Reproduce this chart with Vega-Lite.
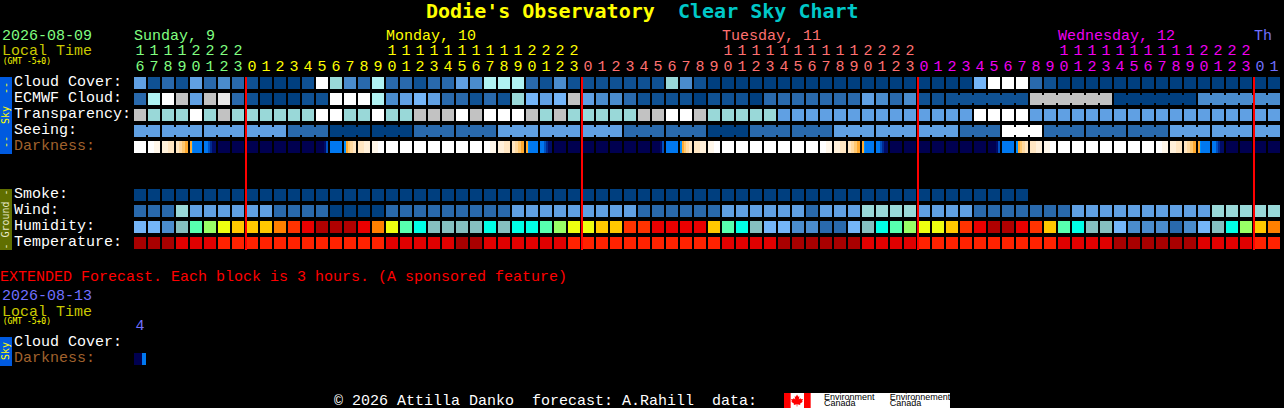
{"$schema":"https://vega.github.io/schema/vega-lite/v6.json","width":1284,"height":408,"padding":0,"autosize":{"type":"none"},"background":"#000000","view":{"stroke":null},
"encoding":{"x":{"field":"col","type":"quantitative","axis":null,"scale":{"domain":[-10,81.7142857],"nice":false,"zero":false}},"y":{"field":"row","type":"quantitative","axis":null,"scale":{"domain":[20.3125,-5.1875],"nice":false,"zero":false}},"color":{"field":"level","type":"nominal","legend":null,"scale":{"domain":["A","B","C","D","E","F","G","H","I","J","K","Hg","Hm","Hl","Hy","Ho","Hr","Hs","Ht","Hd","Hc","Tk","Tr","Tb","d1","d2","d3","d4","d5","d6","d7","d8","d9","d10","d11","N","sky","ground","red","green","yellow","olive","salmon","magenta","periwinkle","brown","cyan","ink","groundtext"],"range":["#003f7f","#0f5193","#2969ac","#4a8ccd","#60a0e3","#74b5f8","#99d8d8","#b0f2f2","#c2c2c2","#e9e9e9","#ffffff","#85bfbf","#57ffaf","#99ff66","#eeff10","#ffc800","#ff8000","#ff3300","#ea0000","#b00000","#00ffe6","#a80000","#e00000","#ff2200","#fff7ea","#fff0da","#ffe6c2","#ffd9a0","#ffc870","#ffaa30","#0090ff","#0078f0","#0050c0","#002a90","#000c68","#000050","#005ae0","#606f00","#ff0000","#80ff80","#ffff00","#c8c800","#ff7070","#f000f0","#7070ff","#a0622d","#00c8c8","#000000","#e8e8c8"]}}},
"layer":[
{"mark":{"type":"square","size":144,"opacity":1,"strokeWidth":0},"data":{"values":[
{"col":0,"row":0,"level":"E"},{"col":1,"row":0,"level":"B"},{"col":2,"row":0,"level":"C"},{"col":3,"row":0,"level":"B"},{"col":4,"row":0,"level":"E"},{"col":5,"row":0,"level":"C"},{"col":6,"row":0,"level":"D"},{"col":7,"row":0,"level":"C"},{"col":8,"row":0,"level":"B"},{"col":9,"row":0,"level":"A"},{"col":10,"row":0,"level":"A"},{"col":11,"row":0,"level":"A"},{"col":12,"row":0,"level":"B"},{"col":13,"row":0,"level":"K"},{"col":14,"row":0,"level":"G"},{"col":15,"row":0,"level":"D"},{"col":16,"row":0,"level":"C"},{"col":17,"row":0,"level":"H"},{"col":18,"row":0,"level":"C"},{"col":19,"row":0,"level":"C"},{"col":20,"row":0,"level":"B"},{"col":21,"row":0,"level":"C"},{"col":22,"row":0,"level":"C"},{"col":23,"row":0,"level":"E"},{"col":24,"row":0,"level":"D"},{"col":25,"row":0,"level":"H"},{"col":26,"row":0,"level":"H"},{"col":27,"row":0,"level":"H"},{"col":28,"row":0,"level":"C"},{"col":29,"row":0,"level":"B"},{"col":30,"row":0,"level":"D"},{"col":31,"row":0,"level":"B"},{"col":32,"row":0,"level":"B"},{"col":33,"row":0,"level":"B"},{"col":34,"row":0,"level":"B"},{"col":35,"row":0,"level":"B"},{"col":36,"row":0,"level":"B"},{"col":37,"row":0,"level":"B"},{"col":38,"row":0,"level":"G"},{"col":39,"row":0,"level":"D"},{"col":40,"row":0,"level":"B"},{"col":41,"row":0,"level":"A"},{"col":42,"row":0,"level":"A"},{"col":43,"row":0,"level":"A"},{"col":44,"row":0,"level":"A"},{"col":45,"row":0,"level":"A"},{"col":46,"row":0,"level":"A"},{"col":47,"row":0,"level":"A"},{"col":48,"row":0,"level":"A"},{"col":49,"row":0,"level":"A"},{"col":50,"row":0,"level":"A"},{"col":51,"row":0,"level":"A"},{"col":52,"row":0,"level":"A"},{"col":53,"row":0,"level":"A"},{"col":54,"row":0,"level":"A"},{"col":55,"row":0,"level":"A"},{"col":56,"row":0,"level":"A"},{"col":57,"row":0,"level":"A"},{"col":58,"row":0,"level":"A"},{"col":59,"row":0,"level":"A"},{"col":60,"row":0,"level":"F"},{"col":61,"row":0,"level":"K"},{"col":62,"row":0,"level":"K"},{"col":63,"row":0,"level":"K"},{"col":64,"row":0,"level":"C"},{"col":65,"row":0,"level":"B"},{"col":66,"row":0,"level":"A"},{"col":67,"row":0,"level":"A"},{"col":68,"row":0,"level":"A"},{"col":69,"row":0,"level":"A"},{"col":70,"row":0,"level":"A"},{"col":71,"row":0,"level":"A"},{"col":72,"row":0,"level":"A"},{"col":73,"row":0,"level":"A"},{"col":74,"row":0,"level":"A"},{"col":75,"row":0,"level":"A"},{"col":76,"row":0,"level":"A"},{"col":77,"row":0,"level":"A"},{"col":78,"row":0,"level":"A"},{"col":79,"row":0,"level":"A"},{"col":80,"row":0,"level":"A"},{"col":81,"row":0,"level":"A"},
{"col":0,"row":1,"level":"C"},{"col":1,"row":1,"level":"H"},{"col":2,"row":1,"level":"K"},{"col":3,"row":1,"level":"I"},{"col":4,"row":1,"level":"E"},{"col":5,"row":1,"level":"I"},{"col":6,"row":1,"level":"J"},{"col":7,"row":1,"level":"C"},{"col":8,"row":1,"level":"B"},{"col":9,"row":1,"level":"A"},{"col":10,"row":1,"level":"A"},{"col":11,"row":1,"level":"A"},{"col":12,"row":1,"level":"B"},{"col":13,"row":1,"level":"B"},{"col":14,"row":1,"level":"K"},{"col":15,"row":1,"level":"K"},{"col":16,"row":1,"level":"K"},{"col":17,"row":1,"level":"H"},{"col":18,"row":1,"level":"D"},{"col":19,"row":1,"level":"E"},{"col":20,"row":1,"level":"F"},{"col":21,"row":1,"level":"E"},{"col":22,"row":1,"level":"C"},{"col":23,"row":1,"level":"C"},{"col":24,"row":1,"level":"B"},{"col":25,"row":1,"level":"C"},{"col":26,"row":1,"level":"B"},{"col":27,"row":1,"level":"G"},{"col":28,"row":1,"level":"F"},{"col":29,"row":1,"level":"E"},{"col":30,"row":1,"level":"F"},{"col":31,"row":1,"level":"I"},{"col":32,"row":1,"level":"E"},{"col":33,"row":1,"level":"D"},{"col":34,"row":1,"level":"D"},{"col":35,"row":1,"level":"C"},{"col":36,"row":1,"level":"B"},{"col":37,"row":1,"level":"B"},{"col":38,"row":1,"level":"B"},{"col":39,"row":1,"level":"B"},{"col":40,"row":1,"level":"A"},{"col":41,"row":1,"level":"B"},{"col":42,"row":1,"level":"B"},{"col":43,"row":1,"level":"B"},{"col":44,"row":1,"level":"A"},{"col":45,"row":1,"level":"C"},{"col":46,"row":1,"level":"C"},{"col":47,"row":1,"level":"C"},{"col":48,"row":1,"level":"C"},{"col":49,"row":1,"level":"C"},{"col":50,"row":1,"level":"C"},{"col":51,"row":1,"level":"C"},{"col":52,"row":1,"level":"E"},{"col":53,"row":1,"level":"D"},{"col":54,"row":1,"level":"C"},{"col":55,"row":1,"level":"D"},{"col":56,"row":1,"level":"B"},{"col":57,"row":1,"level":"B"},{"col":58,"row":1,"level":"B"},{"col":59,"row":1,"level":"B"},{"col":60,"row":1,"level":"B"},{"col":61,"row":1,"level":"B"},{"col":62,"row":1,"level":"B"},{"col":63,"row":1,"level":"B"},{"col":64,"row":1,"level":"I"},{"col":65,"row":1,"level":"I"},{"col":66,"row":1,"level":"I"},{"col":67,"row":1,"level":"I"},{"col":68,"row":1,"level":"I"},{"col":69,"row":1,"level":"I"},{"col":70,"row":1,"level":"A"},{"col":71,"row":1,"level":"A"},{"col":72,"row":1,"level":"A"},{"col":73,"row":1,"level":"A"},{"col":74,"row":1,"level":"A"},{"col":75,"row":1,"level":"A"},{"col":76,"row":1,"level":"D"},{"col":77,"row":1,"level":"D"},{"col":78,"row":1,"level":"D"},{"col":79,"row":1,"level":"D"},{"col":80,"row":1,"level":"D"},{"col":81,"row":1,"level":"D"},
{"col":0,"row":2,"level":"I"},{"col":1,"row":2,"level":"G"},{"col":2,"row":2,"level":"G"},{"col":3,"row":2,"level":"G"},{"col":4,"row":2,"level":"K"},{"col":5,"row":2,"level":"G"},{"col":6,"row":2,"level":"I"},{"col":7,"row":2,"level":"G"},{"col":8,"row":2,"level":"G"},{"col":9,"row":2,"level":"G"},{"col":10,"row":2,"level":"G"},{"col":11,"row":2,"level":"G"},{"col":12,"row":2,"level":"G"},{"col":13,"row":2,"level":"K"},{"col":14,"row":2,"level":"K"},{"col":15,"row":2,"level":"G"},{"col":16,"row":2,"level":"G"},{"col":17,"row":2,"level":"K"},{"col":18,"row":2,"level":"G"},{"col":19,"row":2,"level":"G"},{"col":20,"row":2,"level":"I"},{"col":21,"row":2,"level":"I"},{"col":22,"row":2,"level":"I"},{"col":23,"row":2,"level":"K"},{"col":24,"row":2,"level":"I"},{"col":25,"row":2,"level":"K"},{"col":26,"row":2,"level":"K"},{"col":27,"row":2,"level":"K"},{"col":28,"row":2,"level":"I"},{"col":29,"row":2,"level":"G"},{"col":30,"row":2,"level":"I"},{"col":31,"row":2,"level":"G"},{"col":32,"row":2,"level":"G"},{"col":33,"row":2,"level":"G"},{"col":34,"row":2,"level":"G"},{"col":35,"row":2,"level":"G"},{"col":36,"row":2,"level":"I"},{"col":37,"row":2,"level":"I"},{"col":38,"row":2,"level":"K"},{"col":39,"row":2,"level":"K"},{"col":40,"row":2,"level":"I"},{"col":41,"row":2,"level":"G"},{"col":42,"row":2,"level":"G"},{"col":43,"row":2,"level":"G"},{"col":44,"row":2,"level":"G"},{"col":45,"row":2,"level":"G"},{"col":46,"row":2,"level":"E"},{"col":47,"row":2,"level":"E"},{"col":48,"row":2,"level":"E"},{"col":49,"row":2,"level":"E"},{"col":50,"row":2,"level":"E"},{"col":51,"row":2,"level":"E"},{"col":52,"row":2,"level":"E"},{"col":53,"row":2,"level":"E"},{"col":54,"row":2,"level":"E"},{"col":55,"row":2,"level":"E"},{"col":56,"row":2,"level":"E"},{"col":57,"row":2,"level":"E"},{"col":58,"row":2,"level":"E"},{"col":59,"row":2,"level":"E"},{"col":60,"row":2,"level":"K"},{"col":61,"row":2,"level":"K"},{"col":62,"row":2,"level":"K"},{"col":63,"row":2,"level":"K"},{"col":64,"row":2,"level":"E"},{"col":65,"row":2,"level":"E"},{"col":66,"row":2,"level":"E"},{"col":67,"row":2,"level":"E"},{"col":68,"row":2,"level":"E"},{"col":69,"row":2,"level":"E"},{"col":70,"row":2,"level":"E"},{"col":71,"row":2,"level":"E"},{"col":72,"row":2,"level":"E"},{"col":73,"row":2,"level":"E"},{"col":74,"row":2,"level":"E"},{"col":75,"row":2,"level":"E"},{"col":76,"row":2,"level":"E"},{"col":77,"row":2,"level":"E"},{"col":78,"row":2,"level":"E"},{"col":79,"row":2,"level":"E"},{"col":80,"row":2,"level":"E"},{"col":81,"row":2,"level":"E"},
{"col":0,"row":3,"level":"E"},{"col":1,"row":3,"level":"E"},{"col":2,"row":3,"level":"E"},{"col":3,"row":3,"level":"E"},{"col":4,"row":3,"level":"E"},{"col":5,"row":3,"level":"E"},{"col":6,"row":3,"level":"E"},{"col":7,"row":3,"level":"E"},{"col":8,"row":3,"level":"E"},{"col":9,"row":3,"level":"E"},{"col":10,"row":3,"level":"E"},{"col":11,"row":3,"level":"C"},{"col":12,"row":3,"level":"C"},{"col":13,"row":3,"level":"C"},{"col":14,"row":3,"level":"A"},{"col":15,"row":3,"level":"A"},{"col":16,"row":3,"level":"A"},{"col":17,"row":3,"level":"A"},{"col":18,"row":3,"level":"A"},{"col":19,"row":3,"level":"A"},{"col":20,"row":3,"level":"C"},{"col":21,"row":3,"level":"C"},{"col":22,"row":3,"level":"C"},{"col":23,"row":3,"level":"C"},{"col":24,"row":3,"level":"C"},{"col":25,"row":3,"level":"C"},{"col":26,"row":3,"level":"E"},{"col":27,"row":3,"level":"E"},{"col":28,"row":3,"level":"E"},{"col":29,"row":3,"level":"E"},{"col":30,"row":3,"level":"E"},{"col":31,"row":3,"level":"E"},{"col":32,"row":3,"level":"E"},{"col":33,"row":3,"level":"E"},{"col":34,"row":3,"level":"E"},{"col":35,"row":3,"level":"C"},{"col":36,"row":3,"level":"C"},{"col":37,"row":3,"level":"C"},{"col":38,"row":3,"level":"C"},{"col":39,"row":3,"level":"C"},{"col":40,"row":3,"level":"C"},{"col":41,"row":3,"level":"A"},{"col":42,"row":3,"level":"A"},{"col":43,"row":3,"level":"A"},{"col":44,"row":3,"level":"C"},{"col":45,"row":3,"level":"C"},{"col":46,"row":3,"level":"C"},{"col":47,"row":3,"level":"C"},{"col":48,"row":3,"level":"C"},{"col":49,"row":3,"level":"C"},{"col":50,"row":3,"level":"E"},{"col":51,"row":3,"level":"E"},{"col":52,"row":3,"level":"E"},{"col":53,"row":3,"level":"E"},{"col":54,"row":3,"level":"E"},{"col":55,"row":3,"level":"E"},{"col":56,"row":3,"level":"E"},{"col":57,"row":3,"level":"E"},{"col":58,"row":3,"level":"E"},{"col":59,"row":3,"level":"C"},{"col":60,"row":3,"level":"C"},{"col":61,"row":3,"level":"C"},{"col":62,"row":3,"level":"K"},{"col":63,"row":3,"level":"K"},{"col":64,"row":3,"level":"K"},{"col":65,"row":3,"level":"C"},{"col":66,"row":3,"level":"C"},{"col":67,"row":3,"level":"C"},{"col":68,"row":3,"level":"C"},{"col":69,"row":3,"level":"C"},{"col":70,"row":3,"level":"C"},{"col":71,"row":3,"level":"C"},{"col":72,"row":3,"level":"C"},{"col":73,"row":3,"level":"C"},{"col":74,"row":3,"level":"E"},{"col":75,"row":3,"level":"E"},{"col":76,"row":3,"level":"E"},{"col":77,"row":3,"level":"E"},{"col":78,"row":3,"level":"E"},{"col":79,"row":3,"level":"E"},{"col":80,"row":3,"level":"E"},{"col":81,"row":3,"level":"E"},
{"col":0,"row":4,"level":"K"},{"col":6,"row":4,"level":"N"},{"col":7,"row":4,"level":"N"},{"col":8,"row":4,"level":"N"},{"col":9,"row":4,"level":"N"},{"col":10,"row":4,"level":"N"},{"col":11,"row":4,"level":"N"},{"col":12,"row":4,"level":"N"},{"col":14,"row":4,"level":"d8"},{"col":18,"row":4,"level":"K"},{"col":19,"row":4,"level":"K"},{"col":20,"row":4,"level":"K"},{"col":21,"row":4,"level":"K"},{"col":22,"row":4,"level":"K"},{"col":23,"row":4,"level":"K"},{"col":24,"row":4,"level":"K"},{"col":30,"row":4,"level":"N"},{"col":31,"row":4,"level":"N"},{"col":32,"row":4,"level":"N"},{"col":33,"row":4,"level":"N"},{"col":34,"row":4,"level":"N"},{"col":35,"row":4,"level":"N"},{"col":36,"row":4,"level":"N"},{"col":38,"row":4,"level":"d8"},{"col":42,"row":4,"level":"K"},{"col":43,"row":4,"level":"K"},{"col":44,"row":4,"level":"K"},{"col":45,"row":4,"level":"K"},{"col":46,"row":4,"level":"K"},{"col":47,"row":4,"level":"K"},{"col":48,"row":4,"level":"K"},{"col":54,"row":4,"level":"N"},{"col":55,"row":4,"level":"N"},{"col":56,"row":4,"level":"N"},{"col":57,"row":4,"level":"N"},{"col":58,"row":4,"level":"N"},{"col":59,"row":4,"level":"N"},{"col":60,"row":4,"level":"N"},{"col":62,"row":4,"level":"d8"},{"col":66,"row":4,"level":"K"},{"col":67,"row":4,"level":"K"},{"col":68,"row":4,"level":"K"},{"col":69,"row":4,"level":"K"},{"col":70,"row":4,"level":"K"},{"col":71,"row":4,"level":"K"},{"col":72,"row":4,"level":"K"},{"col":78,"row":4,"level":"N"},{"col":79,"row":4,"level":"N"},{"col":80,"row":4,"level":"N"},{"col":81,"row":4,"level":"N"},
{"col":0,"row":7,"level":"A"},{"col":1,"row":7,"level":"A"},{"col":2,"row":7,"level":"A"},{"col":3,"row":7,"level":"A"},{"col":4,"row":7,"level":"A"},{"col":5,"row":7,"level":"A"},{"col":6,"row":7,"level":"A"},{"col":7,"row":7,"level":"A"},{"col":8,"row":7,"level":"A"},{"col":9,"row":7,"level":"A"},{"col":10,"row":7,"level":"A"},{"col":11,"row":7,"level":"A"},{"col":12,"row":7,"level":"A"},{"col":13,"row":7,"level":"A"},{"col":14,"row":7,"level":"A"},{"col":15,"row":7,"level":"A"},{"col":16,"row":7,"level":"A"},{"col":17,"row":7,"level":"A"},{"col":18,"row":7,"level":"A"},{"col":19,"row":7,"level":"A"},{"col":20,"row":7,"level":"A"},{"col":21,"row":7,"level":"A"},{"col":22,"row":7,"level":"A"},{"col":23,"row":7,"level":"A"},{"col":24,"row":7,"level":"A"},{"col":25,"row":7,"level":"A"},{"col":26,"row":7,"level":"A"},{"col":27,"row":7,"level":"A"},{"col":28,"row":7,"level":"A"},{"col":29,"row":7,"level":"A"},{"col":30,"row":7,"level":"A"},{"col":31,"row":7,"level":"A"},{"col":32,"row":7,"level":"A"},{"col":33,"row":7,"level":"A"},{"col":34,"row":7,"level":"A"},{"col":35,"row":7,"level":"A"},{"col":36,"row":7,"level":"A"},{"col":37,"row":7,"level":"A"},{"col":38,"row":7,"level":"A"},{"col":39,"row":7,"level":"A"},{"col":40,"row":7,"level":"A"},{"col":41,"row":7,"level":"A"},{"col":42,"row":7,"level":"A"},{"col":43,"row":7,"level":"A"},{"col":44,"row":7,"level":"A"},{"col":45,"row":7,"level":"A"},{"col":46,"row":7,"level":"A"},{"col":47,"row":7,"level":"A"},{"col":48,"row":7,"level":"A"},{"col":49,"row":7,"level":"A"},{"col":50,"row":7,"level":"A"},{"col":51,"row":7,"level":"A"},{"col":52,"row":7,"level":"A"},{"col":53,"row":7,"level":"A"},{"col":54,"row":7,"level":"A"},{"col":55,"row":7,"level":"A"},{"col":56,"row":7,"level":"A"},{"col":57,"row":7,"level":"A"},{"col":58,"row":7,"level":"A"},{"col":59,"row":7,"level":"A"},{"col":60,"row":7,"level":"A"},{"col":61,"row":7,"level":"A"},{"col":62,"row":7,"level":"A"},{"col":63,"row":7,"level":"A"},
{"col":0,"row":8,"level":"C"},{"col":1,"row":8,"level":"C"},{"col":2,"row":8,"level":"C"},{"col":3,"row":8,"level":"G"},{"col":4,"row":8,"level":"E"},{"col":5,"row":8,"level":"E"},{"col":6,"row":8,"level":"E"},{"col":7,"row":8,"level":"E"},{"col":8,"row":8,"level":"E"},{"col":9,"row":8,"level":"E"},{"col":10,"row":8,"level":"C"},{"col":11,"row":8,"level":"C"},{"col":12,"row":8,"level":"C"},{"col":13,"row":8,"level":"C"},{"col":14,"row":8,"level":"A"},{"col":15,"row":8,"level":"A"},{"col":16,"row":8,"level":"A"},{"col":17,"row":8,"level":"A"},{"col":18,"row":8,"level":"C"},{"col":19,"row":8,"level":"C"},{"col":20,"row":8,"level":"C"},{"col":21,"row":8,"level":"C"},{"col":22,"row":8,"level":"C"},{"col":23,"row":8,"level":"C"},{"col":24,"row":8,"level":"C"},{"col":25,"row":8,"level":"C"},{"col":26,"row":8,"level":"C"},{"col":27,"row":8,"level":"E"},{"col":28,"row":8,"level":"E"},{"col":29,"row":8,"level":"E"},{"col":30,"row":8,"level":"E"},{"col":31,"row":8,"level":"E"},{"col":32,"row":8,"level":"E"},{"col":33,"row":8,"level":"E"},{"col":34,"row":8,"level":"E"},{"col":35,"row":8,"level":"E"},{"col":36,"row":8,"level":"C"},{"col":37,"row":8,"level":"C"},{"col":38,"row":8,"level":"C"},{"col":39,"row":8,"level":"C"},{"col":40,"row":8,"level":"C"},{"col":41,"row":8,"level":"C"},{"col":42,"row":8,"level":"E"},{"col":43,"row":8,"level":"E"},{"col":44,"row":8,"level":"E"},{"col":45,"row":8,"level":"E"},{"col":46,"row":8,"level":"E"},{"col":47,"row":8,"level":"E"},{"col":48,"row":8,"level":"C"},{"col":49,"row":8,"level":"E"},{"col":50,"row":8,"level":"E"},{"col":51,"row":8,"level":"E"},{"col":52,"row":8,"level":"G"},{"col":53,"row":8,"level":"G"},{"col":54,"row":8,"level":"G"},{"col":55,"row":8,"level":"G"},{"col":56,"row":8,"level":"E"},{"col":57,"row":8,"level":"E"},{"col":58,"row":8,"level":"E"},{"col":59,"row":8,"level":"E"},{"col":60,"row":8,"level":"C"},{"col":61,"row":8,"level":"C"},{"col":62,"row":8,"level":"C"},{"col":63,"row":8,"level":"C"},{"col":64,"row":8,"level":"C"},{"col":65,"row":8,"level":"C"},{"col":66,"row":8,"level":"C"},{"col":67,"row":8,"level":"E"},{"col":68,"row":8,"level":"E"},{"col":69,"row":8,"level":"E"},{"col":70,"row":8,"level":"E"},{"col":71,"row":8,"level":"E"},{"col":72,"row":8,"level":"E"},{"col":73,"row":8,"level":"E"},{"col":74,"row":8,"level":"E"},{"col":75,"row":8,"level":"E"},{"col":76,"row":8,"level":"E"},{"col":77,"row":8,"level":"G"},{"col":78,"row":8,"level":"G"},{"col":79,"row":8,"level":"G"},{"col":80,"row":8,"level":"G"},{"col":81,"row":8,"level":"G"},
{"col":0,"row":9,"level":"F"},{"col":1,"row":9,"level":"F"},{"col":2,"row":9,"level":"D"},{"col":3,"row":9,"level":"Hg"},{"col":4,"row":9,"level":"Hm"},{"col":5,"row":9,"level":"Hl"},{"col":6,"row":9,"level":"Hy"},{"col":7,"row":9,"level":"Ho"},{"col":8,"row":9,"level":"Ho"},{"col":9,"row":9,"level":"Ho"},{"col":10,"row":9,"level":"Hr"},{"col":11,"row":9,"level":"Hs"},{"col":12,"row":9,"level":"Ht"},{"col":13,"row":9,"level":"Hd"},{"col":14,"row":9,"level":"Hd"},{"col":15,"row":9,"level":"Hd"},{"col":16,"row":9,"level":"Ht"},{"col":17,"row":9,"level":"Hr"},{"col":18,"row":9,"level":"Hy"},{"col":19,"row":9,"level":"Hm"},{"col":20,"row":9,"level":"Hc"},{"col":21,"row":9,"level":"Hg"},{"col":22,"row":9,"level":"Hg"},{"col":23,"row":9,"level":"Hg"},{"col":24,"row":9,"level":"Hg"},{"col":25,"row":9,"level":"Hc"},{"col":26,"row":9,"level":"Hg"},{"col":27,"row":9,"level":"Hc"},{"col":28,"row":9,"level":"Hc"},{"col":29,"row":9,"level":"Hm"},{"col":30,"row":9,"level":"Hl"},{"col":31,"row":9,"level":"Hy"},{"col":32,"row":9,"level":"Hy"},{"col":33,"row":9,"level":"Ho"},{"col":34,"row":9,"level":"Ho"},{"col":35,"row":9,"level":"Hs"},{"col":36,"row":9,"level":"Hs"},{"col":37,"row":9,"level":"Ht"},{"col":38,"row":9,"level":"Ht"},{"col":39,"row":9,"level":"Ht"},{"col":40,"row":9,"level":"Ht"},{"col":41,"row":9,"level":"Ho"},{"col":42,"row":9,"level":"Hm"},{"col":43,"row":9,"level":"Hc"},{"col":44,"row":9,"level":"Hg"},{"col":45,"row":9,"level":"F"},{"col":46,"row":9,"level":"F"},{"col":47,"row":9,"level":"D"},{"col":48,"row":9,"level":"D"},{"col":49,"row":9,"level":"C"},{"col":50,"row":9,"level":"C"},{"col":51,"row":9,"level":"F"},{"col":52,"row":9,"level":"Hg"},{"col":53,"row":9,"level":"Hc"},{"col":54,"row":9,"level":"Hm"},{"col":55,"row":9,"level":"Hl"},{"col":56,"row":9,"level":"Hy"},{"col":57,"row":9,"level":"Hy"},{"col":58,"row":9,"level":"Ho"},{"col":59,"row":9,"level":"Hs"},{"col":60,"row":9,"level":"Ht"},{"col":61,"row":9,"level":"Hd"},{"col":62,"row":9,"level":"Hd"},{"col":63,"row":9,"level":"Ht"},{"col":64,"row":9,"level":"Hs"},{"col":65,"row":9,"level":"Ho"},{"col":66,"row":9,"level":"Hm"},{"col":67,"row":9,"level":"Hc"},{"col":68,"row":9,"level":"Hg"},{"col":69,"row":9,"level":"Hg"},{"col":70,"row":9,"level":"F"},{"col":71,"row":9,"level":"D"},{"col":72,"row":9,"level":"D"},{"col":73,"row":9,"level":"D"},{"col":74,"row":9,"level":"C"},{"col":75,"row":9,"level":"D"},{"col":76,"row":9,"level":"F"},{"col":77,"row":9,"level":"Hg"},{"col":78,"row":9,"level":"Hc"},{"col":79,"row":9,"level":"Hl"},{"col":80,"row":9,"level":"Ho"},{"col":81,"row":9,"level":"Hr"},
{"col":0,"row":10,"level":"Tk"},{"col":1,"row":10,"level":"Tk"},{"col":2,"row":10,"level":"Tk"},{"col":3,"row":10,"level":"Tr"},{"col":4,"row":10,"level":"Tr"},{"col":5,"row":10,"level":"Tr"},{"col":6,"row":10,"level":"Tb"},{"col":7,"row":10,"level":"Tb"},{"col":8,"row":10,"level":"Tb"},{"col":9,"row":10,"level":"Tb"},{"col":10,"row":10,"level":"Tb"},{"col":11,"row":10,"level":"Tb"},{"col":12,"row":10,"level":"Tb"},{"col":13,"row":10,"level":"Tb"},{"col":14,"row":10,"level":"Tb"},{"col":15,"row":10,"level":"Tb"},{"col":16,"row":10,"level":"Tb"},{"col":17,"row":10,"level":"Tb"},{"col":18,"row":10,"level":"Tr"},{"col":19,"row":10,"level":"Tr"},{"col":20,"row":10,"level":"Tr"},{"col":21,"row":10,"level":"Tr"},{"col":22,"row":10,"level":"Tr"},{"col":23,"row":10,"level":"Tk"},{"col":24,"row":10,"level":"Tk"},{"col":25,"row":10,"level":"Tr"},{"col":26,"row":10,"level":"Tr"},{"col":27,"row":10,"level":"Tr"},{"col":28,"row":10,"level":"Tr"},{"col":29,"row":10,"level":"Tr"},{"col":30,"row":10,"level":"Tr"},{"col":31,"row":10,"level":"Tb"},{"col":32,"row":10,"level":"Tb"},{"col":33,"row":10,"level":"Tb"},{"col":34,"row":10,"level":"Tb"},{"col":35,"row":10,"level":"Tb"},{"col":36,"row":10,"level":"Tb"},{"col":37,"row":10,"level":"Tb"},{"col":38,"row":10,"level":"Tb"},{"col":39,"row":10,"level":"Tb"},{"col":40,"row":10,"level":"Tb"},{"col":41,"row":10,"level":"Tb"},{"col":42,"row":10,"level":"Tr"},{"col":43,"row":10,"level":"Tr"},{"col":44,"row":10,"level":"Tr"},{"col":45,"row":10,"level":"Tr"},{"col":46,"row":10,"level":"Tk"},{"col":47,"row":10,"level":"Tk"},{"col":48,"row":10,"level":"Tk"},{"col":49,"row":10,"level":"Tk"},{"col":50,"row":10,"level":"Tk"},{"col":51,"row":10,"level":"Tk"},{"col":52,"row":10,"level":"Tr"},{"col":53,"row":10,"level":"Tr"},{"col":54,"row":10,"level":"Tr"},{"col":55,"row":10,"level":"Tr"},{"col":56,"row":10,"level":"Tb"},{"col":57,"row":10,"level":"Tb"},{"col":58,"row":10,"level":"Tb"},{"col":59,"row":10,"level":"Tb"},{"col":60,"row":10,"level":"Tb"},{"col":61,"row":10,"level":"Tb"},{"col":62,"row":10,"level":"Tb"},{"col":63,"row":10,"level":"Tb"},{"col":64,"row":10,"level":"Tb"},{"col":65,"row":10,"level":"Tb"},{"col":66,"row":10,"level":"Tr"},{"col":67,"row":10,"level":"Tr"},{"col":68,"row":10,"level":"Tr"},{"col":69,"row":10,"level":"Tr"},{"col":70,"row":10,"level":"Tk"},{"col":71,"row":10,"level":"Tk"},{"col":72,"row":10,"level":"Tk"},{"col":73,"row":10,"level":"Tk"},{"col":74,"row":10,"level":"Tk"},{"col":75,"row":10,"level":"Tk"},{"col":76,"row":10,"level":"Tr"},{"col":77,"row":10,"level":"Tr"},{"col":78,"row":10,"level":"Tr"},{"col":79,"row":10,"level":"Tr"},{"col":80,"row":10,"level":"Tb"},{"col":81,"row":10,"level":"Tb"}
]}},
{"mark":{"type":"rule","strokeWidth":8},"encoding":{"x":{"field":"from","type":"quantitative"},"x2":{"field":"to"}},"data":{"values":[
{"from":58,"to":63,"row":1,"level":"B"},{"from":64,"to":69,"row":1,"level":"I"},{"from":70,"to":75,"row":1,"level":"A"},{"from":76,"to":81,"row":1,"level":"D"},
{"from":0,"to":1,"row":3,"level":"E"},{"from":2,"to":4,"row":3,"level":"E"},{"from":5,"to":7,"row":3,"level":"E"},{"from":8,"to":10,"row":3,"level":"E"},{"from":11,"to":13,"row":3,"level":"C"},{"from":14,"to":16,"row":3,"level":"A"},{"from":17,"to":19,"row":3,"level":"A"},{"from":20,"to":22,"row":3,"level":"C"},{"from":23,"to":25,"row":3,"level":"C"},{"from":26,"to":28,"row":3,"level":"E"},{"from":29,"to":31,"row":3,"level":"E"},{"from":32,"to":34,"row":3,"level":"E"},{"from":35,"to":37,"row":3,"level":"C"},{"from":38,"to":40,"row":3,"level":"C"},{"from":41,"to":43,"row":3,"level":"A"},{"from":44,"to":46,"row":3,"level":"C"},{"from":47,"to":49,"row":3,"level":"C"},{"from":50,"to":52,"row":3,"level":"E"},{"from":53,"to":55,"row":3,"level":"E"},{"from":56,"to":58,"row":3,"level":"E"},{"from":59,"to":61,"row":3,"level":"C"},{"from":62,"to":64,"row":3,"level":"K"},{"from":65,"to":67,"row":3,"level":"C"},{"from":68,"to":70,"row":3,"level":"C"},{"from":71,"to":73,"row":3,"level":"C"},{"from":74,"to":76,"row":3,"level":"E"},{"from":77,"to":79,"row":3,"level":"E"},{"from":80,"to":81,"row":3,"level":"E"}
]}},
{"mark":{"type":"rule","strokeWidth":12},"encoding":{"x":{"field":"from","type":"quantitative"},"x2":{"field":"to"}},"data":{"values":[
{"from":0.5714,"to":1,"row":4,"level":"K"},{"from":1,"to":1.4286,"row":4,"level":"d1"},{"from":1.5714,"to":2,"row":4,"level":"d2"},{"from":2,"to":2.4286,"row":4,"level":"d3"},{"from":2.5714,"to":2.7857,"row":4,"level":"d3"},{"from":2.7857,"to":3,"row":4,"level":"d4"},{"from":3,"to":3.2143,"row":4,"level":"d5"},{"from":3.2143,"to":3.4286,"row":4,"level":"d6"},{"from":3.5714,"to":3.7143,"row":4,"level":"d6"},{"from":3.7143,"to":3.7857,"row":4,"level":"d7"},{"from":3.7857,"to":4.4286,"row":4,"level":"d8"},{"from":4.5714,"to":4.8571,"row":4,"level":"d8"},{"from":4.8571,"to":5,"row":4,"level":"d9"},{"from":5,"to":5.1429,"row":4,"level":"d10"},{"from":5.1429,"to":5.4286,"row":4,"level":"d11"},
{"from":12.5714,"to":13.1429,"row":4,"level":"N"},{"from":13.1429,"to":13.2857,"row":4,"level":"d11"},{"from":13.2857,"to":13.4286,"row":4,"level":"d9"},{"from":14.5714,"to":14.7143,"row":4,"level":"d7"},{"from":14.7143,"to":14.8571,"row":4,"level":"d6"},{"from":14.8571,"to":15,"row":4,"level":"d5"},{"from":15,"to":15.2143,"row":4,"level":"d4"},{"from":15.2143,"to":15.4286,"row":4,"level":"d3"},{"from":15.5714,"to":16,"row":4,"level":"d3"},{"from":16,"to":16.4286,"row":4,"level":"d2"},{"from":16.5714,"to":17,"row":4,"level":"d1"},{"from":17,"to":17.4286,"row":4,"level":"K"},
{"from":24.5714,"to":25,"row":4,"level":"K"},{"from":25,"to":25.4286,"row":4,"level":"d1"},{"from":25.5714,"to":26,"row":4,"level":"d2"},{"from":26,"to":26.4286,"row":4,"level":"d3"},{"from":26.5714,"to":26.7857,"row":4,"level":"d3"},{"from":26.7857,"to":27,"row":4,"level":"d4"},{"from":27,"to":27.2143,"row":4,"level":"d5"},{"from":27.2143,"to":27.4286,"row":4,"level":"d6"},{"from":27.5714,"to":27.7143,"row":4,"level":"d6"},{"from":27.7143,"to":27.7857,"row":4,"level":"d7"},{"from":27.7857,"to":28.4286,"row":4,"level":"d8"},{"from":28.5714,"to":28.8571,"row":4,"level":"d8"},{"from":28.8571,"to":29,"row":4,"level":"d9"},{"from":29,"to":29.1429,"row":4,"level":"d10"},{"from":29.1429,"to":29.4286,"row":4,"level":"d11"},
{"from":36.5714,"to":37.1429,"row":4,"level":"N"},{"from":37.1429,"to":37.2857,"row":4,"level":"d11"},{"from":37.2857,"to":37.4286,"row":4,"level":"d9"},{"from":38.5714,"to":38.7143,"row":4,"level":"d7"},{"from":38.7143,"to":38.8571,"row":4,"level":"d6"},{"from":38.8571,"to":39,"row":4,"level":"d5"},{"from":39,"to":39.2143,"row":4,"level":"d4"},{"from":39.2143,"to":39.4286,"row":4,"level":"d3"},{"from":39.5714,"to":40,"row":4,"level":"d3"},{"from":40,"to":40.4286,"row":4,"level":"d2"},{"from":40.5714,"to":41,"row":4,"level":"d1"},{"from":41,"to":41.4286,"row":4,"level":"K"},
{"from":48.5714,"to":49,"row":4,"level":"K"},{"from":49,"to":49.4286,"row":4,"level":"d1"},{"from":49.5714,"to":50,"row":4,"level":"d2"},{"from":50,"to":50.4286,"row":4,"level":"d3"},{"from":50.5714,"to":50.7857,"row":4,"level":"d3"},{"from":50.7857,"to":51,"row":4,"level":"d4"},{"from":51,"to":51.2143,"row":4,"level":"d5"},{"from":51.2143,"to":51.4286,"row":4,"level":"d6"},{"from":51.5714,"to":51.7143,"row":4,"level":"d6"},{"from":51.7143,"to":51.7857,"row":4,"level":"d7"},{"from":51.7857,"to":52.4286,"row":4,"level":"d8"},{"from":52.5714,"to":52.8571,"row":4,"level":"d8"},{"from":52.8571,"to":53,"row":4,"level":"d9"},{"from":53,"to":53.1429,"row":4,"level":"d10"},{"from":53.1429,"to":53.4286,"row":4,"level":"d11"},
{"from":60.5714,"to":61.1429,"row":4,"level":"N"},{"from":61.1429,"to":61.2857,"row":4,"level":"d11"},{"from":61.2857,"to":61.4286,"row":4,"level":"d9"},{"from":62.5714,"to":62.7143,"row":4,"level":"d7"},{"from":62.7143,"to":62.8571,"row":4,"level":"d6"},{"from":62.8571,"to":63,"row":4,"level":"d5"},{"from":63,"to":63.2143,"row":4,"level":"d4"},{"from":63.2143,"to":63.4286,"row":4,"level":"d3"},{"from":63.5714,"to":64,"row":4,"level":"d3"},{"from":64,"to":64.4286,"row":4,"level":"d2"},{"from":64.5714,"to":65,"row":4,"level":"d1"},{"from":65,"to":65.4286,"row":4,"level":"K"},
{"from":72.5714,"to":73,"row":4,"level":"K"},{"from":73,"to":73.4286,"row":4,"level":"d1"},{"from":73.5714,"to":74,"row":4,"level":"d2"},{"from":74,"to":74.4286,"row":4,"level":"d3"},{"from":74.5714,"to":74.7857,"row":4,"level":"d3"},{"from":74.7857,"to":75,"row":4,"level":"d4"},{"from":75,"to":75.2143,"row":4,"level":"d5"},{"from":75.2143,"to":75.4286,"row":4,"level":"d6"},{"from":75.5714,"to":75.7143,"row":4,"level":"d6"},{"from":75.7143,"to":75.7857,"row":4,"level":"d7"},{"from":75.7857,"to":76.4286,"row":4,"level":"d8"},{"from":76.5714,"to":76.8571,"row":4,"level":"d8"},{"from":76.8571,"to":77,"row":4,"level":"d9"},{"from":77,"to":77.1429,"row":4,"level":"d10"},{"from":77.1429,"to":77.4286,"row":4,"level":"d11"},
{"from":-0.4286,"to":0.1429,"row":17.25,"level":"N"},{"from":0.1429,"to":0.4286,"row":17.25,"level":"d8"}
]}},
{"mark":{"type":"rect","strokeWidth":0},"encoding":{"x":{"field":"from","type":"quantitative"},"x2":{"field":"to"},"y2":{"field":"rowEnd"}},"data":{"values":[
{"from":-10,"to":-9.1429,"row":-0.375,"rowEnd":4.4375,"level":"sky"},{"from":-10,"to":-9.1429,"row":6.625,"rowEnd":10.4375,"level":"ground"},{"from":-10,"to":-9.1429,"row":15.875,"rowEnd":17.6875,"level":"sky"},
{"from":46,"to":57.8571,"row":19.375,"rowEnd":20.3125,"level":"K"},{"from":46,"to":46.4762,"row":19.375,"rowEnd":20.3125,"level":"red"},{"from":47.4286,"to":47.9048,"row":19.375,"rowEnd":20.3125,"level":"red"}
]}},
{"mark":{"type":"point","filled":true,"opacity":1,"strokeWidth":0,"size":144,"shape":"M0,-1 L.2,-.6 L.4,-.7 L.3,-.15 L.55,-.4 L.65,-.2 L1,-.25 L.85,.1 L.95,.2 L.5,.55 L.55,.75 L.05,.65 L.05,1 L-.05,1 L-.05,.65 L-.55,.75 L-.5,.55 L-.95,.2 L-.85,.1 L-1,-.25 L-.65,-.2 L-.55,-.4 L-.3,-.15 L-.4,-.7 L-.2,-.6 Z"},"data":{"values":[{"col":46.93,"row":19.84,"level":"red"}]}},
{"mark":{"type":"rule","strokeWidth":2},"encoding":{"y2":{"field":"rowEnd"}},"data":{"values":[{"col":7.5714,"row":-0.375,"rowEnd":10.4375,"level":"red"},{"col":31.5714,"row":-0.375,"rowEnd":10.4375,"level":"red"},{"col":55.5714,"row":-0.375,"rowEnd":10.4375,"level":"red"},{"col":79.5714,"row":-0.375,"rowEnd":10.4375,"level":"red"}]}},
{"mark":{"type":"text","font":"DejaVu Sans Mono","fontWeight":"bold","fontSize":20,"align":"left","baseline":"middle"},"encoding":{"text":{"field":"text"}},"data":{"values":[{"text":"Dodie's Observatory","col":20.4286,"row":-4.4375,"level":"yellow"},{"text":"Clear Sky Chart","col":38.4286,"row":-4.4375,"level":"cyan"}]}},
{"mark":{"type":"text","font":"Liberation Mono","fontSize":15,"align":"left","baseline":"middle"},"encoding":{"text":{"field":"text"}},"data":{"values":[
{"text":"2026-08-09","col":-9.8571,"row":-3,"level":"green"},{"text":"Local Time","col":-9.8571,"row":-2.06,"level":"olive"},{"text":"Sunday, 9","col":-0.4286,"row":-3,"level":"green"},{"text":"Monday, 10","col":17.5714,"row":-3,"level":"yellow"},{"text":"Tuesday, 11","col":41.5714,"row":-3,"level":"salmon"},{"text":"Wednesday, 12","col":65.5714,"row":-3,"level":"magenta"},{"text":"Th","col":79.5714,"row":-3,"level":"periwinkle"},
{"text":"Cloud Cover:","col":-9,"row":-0.125,"level":"K"},{"text":"ECMWF Cloud:","col":-9,"row":0.875,"level":"K"},{"text":"Transparency:","col":-9,"row":1.875,"level":"K"},{"text":"Seeing:","col":-9,"row":2.875,"level":"K"},{"text":"Darkness:","col":-9,"row":3.875,"level":"brown"},
{"text":"Smoke:","col":-9,"row":6.875,"level":"K"},{"text":"Wind:","col":-9,"row":7.875,"level":"K"},{"text":"Humidity:","col":-9,"row":8.875,"level":"K"},{"text":"Temperature:","col":-9,"row":9.875,"level":"K"},
{"text":"EXTENDED Forecast. Each block is 3 hours. (A sponsored feature)","col":-10,"row":12.0625,"level":"red"},{"text":"2026-08-13","col":-9.8571,"row":13.25,"level":"periwinkle"},{"text":"Local Time","col":-9.8571,"row":14.25,"level":"olive"},{"text":"Cloud Cover:","col":-9,"row":16.125,"level":"K"},{"text":"Darkness:","col":-9,"row":17.125,"level":"brown"},
{"text":"© 2026 Attilla Danko\u00a0\u00a0forecast: A.Rahill\u00a0\u00a0data:","col":13.8571,"row":19.8125,"level":"K"}
]}},
{"mark":{"type":"text","font":"DejaVu Sans Mono","fontSize":8,"align":"left","baseline":"middle"},"encoding":{"text":{"field":"text"}},"data":{"values":[{"text":"(GMT -5+0)","col":-9.8,"row":-1.3125,"level":"yellow"},{"text":"(GMT -5+0)","col":-9.8,"row":14.9375,"level":"yellow"}]}},
{"mark":{"type":"text","font":"Liberation Sans","fontSize":9,"align":"left","baseline":"middle"},"encoding":{"text":{"field":"text"}},"data":{"values":[{"text":"Environment","col":48.857,"row":19.625,"level":"ink"},{"text":"Canada","col":48.857,"row":20.03,"level":"ink"},{"text":"Environnement","col":53.55,"row":19.625,"level":"ink"},{"text":"Canada","col":53.55,"row":20.03,"level":"ink"}]}},
{"mark":{"type":"text","font":"DejaVu Sans Mono","fontSize":10,"angle":270,"align":"center","baseline":"middle"},"encoding":{"text":{"field":"text"}},"data":{"values":[{"text":"--\u00a0\u00a0Sky\u00a0\u00a0--","col":-9.5714,"row":2,"level":"yellow"},{"text":"- Ground -","col":-9.5714,"row":8.53,"level":"groundtext"},{"text":"Sky","col":-9.5714,"row":16.75,"level":"yellow"}]}},
{"mark":{"type":"text","font":"Liberation Mono","fontSize":15,"align":"center","baseline":"middle"},"encoding":{"text":{"field":"text"}},"data":{"values":[
{"col":0,"row":-2.06,"text":"1","level":"green"},{"col":1,"row":-2.06,"text":"1","level":"green"},{"col":2,"row":-2.06,"text":"1","level":"green"},{"col":3,"row":-2.06,"text":"1","level":"green"},{"col":4,"row":-2.06,"text":"2","level":"green"},{"col":5,"row":-2.06,"text":"2","level":"green"},{"col":6,"row":-2.06,"text":"2","level":"green"},{"col":7,"row":-2.06,"text":"2","level":"green"},
{"col":18,"row":-2.06,"text":"1","level":"yellow"},{"col":19,"row":-2.06,"text":"1","level":"yellow"},{"col":20,"row":-2.06,"text":"1","level":"yellow"},{"col":21,"row":-2.06,"text":"1","level":"yellow"},{"col":22,"row":-2.06,"text":"1","level":"yellow"},{"col":23,"row":-2.06,"text":"1","level":"yellow"},{"col":24,"row":-2.06,"text":"1","level":"yellow"},{"col":25,"row":-2.06,"text":"1","level":"yellow"},{"col":26,"row":-2.06,"text":"1","level":"yellow"},{"col":27,"row":-2.06,"text":"1","level":"yellow"},{"col":28,"row":-2.06,"text":"2","level":"yellow"},{"col":29,"row":-2.06,"text":"2","level":"yellow"},{"col":30,"row":-2.06,"text":"2","level":"yellow"},{"col":31,"row":-2.06,"text":"2","level":"yellow"},
{"col":42,"row":-2.06,"text":"1","level":"salmon"},{"col":43,"row":-2.06,"text":"1","level":"salmon"},{"col":44,"row":-2.06,"text":"1","level":"salmon"},{"col":45,"row":-2.06,"text":"1","level":"salmon"},{"col":46,"row":-2.06,"text":"1","level":"salmon"},{"col":47,"row":-2.06,"text":"1","level":"salmon"},{"col":48,"row":-2.06,"text":"1","level":"salmon"},{"col":49,"row":-2.06,"text":"1","level":"salmon"},{"col":50,"row":-2.06,"text":"1","level":"salmon"},{"col":51,"row":-2.06,"text":"1","level":"salmon"},{"col":52,"row":-2.06,"text":"2","level":"salmon"},{"col":53,"row":-2.06,"text":"2","level":"salmon"},{"col":54,"row":-2.06,"text":"2","level":"salmon"},{"col":55,"row":-2.06,"text":"2","level":"salmon"},
{"col":66,"row":-2.06,"text":"1","level":"magenta"},{"col":67,"row":-2.06,"text":"1","level":"magenta"},{"col":68,"row":-2.06,"text":"1","level":"magenta"},{"col":69,"row":-2.06,"text":"1","level":"magenta"},{"col":70,"row":-2.06,"text":"1","level":"magenta"},{"col":71,"row":-2.06,"text":"1","level":"magenta"},{"col":72,"row":-2.06,"text":"1","level":"magenta"},{"col":73,"row":-2.06,"text":"1","level":"magenta"},{"col":74,"row":-2.06,"text":"1","level":"magenta"},{"col":75,"row":-2.06,"text":"1","level":"magenta"},{"col":76,"row":-2.06,"text":"2","level":"magenta"},{"col":77,"row":-2.06,"text":"2","level":"magenta"},{"col":78,"row":-2.06,"text":"2","level":"magenta"},{"col":79,"row":-2.06,"text":"2","level":"magenta"},
{"col":0,"row":-1.08,"text":"6","level":"green"},{"col":1,"row":-1.08,"text":"7","level":"green"},{"col":2,"row":-1.08,"text":"8","level":"green"},{"col":3,"row":-1.08,"text":"9","level":"green"},{"col":4,"row":-1.08,"text":"0","level":"green"},{"col":5,"row":-1.08,"text":"1","level":"green"},{"col":6,"row":-1.08,"text":"2","level":"green"},{"col":7,"row":-1.08,"text":"3","level":"green"},
{"col":8,"row":-1.08,"text":"0","level":"yellow"},{"col":9,"row":-1.08,"text":"1","level":"yellow"},{"col":10,"row":-1.08,"text":"2","level":"yellow"},{"col":11,"row":-1.08,"text":"3","level":"yellow"},{"col":12,"row":-1.08,"text":"4","level":"yellow"},{"col":13,"row":-1.08,"text":"5","level":"yellow"},{"col":14,"row":-1.08,"text":"6","level":"yellow"},{"col":15,"row":-1.08,"text":"7","level":"yellow"},{"col":16,"row":-1.08,"text":"8","level":"yellow"},{"col":17,"row":-1.08,"text":"9","level":"yellow"},{"col":18,"row":-1.08,"text":"0","level":"yellow"},{"col":19,"row":-1.08,"text":"1","level":"yellow"},{"col":20,"row":-1.08,"text":"2","level":"yellow"},{"col":21,"row":-1.08,"text":"3","level":"yellow"},{"col":22,"row":-1.08,"text":"4","level":"yellow"},{"col":23,"row":-1.08,"text":"5","level":"yellow"},{"col":24,"row":-1.08,"text":"6","level":"yellow"},{"col":25,"row":-1.08,"text":"7","level":"yellow"},{"col":26,"row":-1.08,"text":"8","level":"yellow"},{"col":27,"row":-1.08,"text":"9","level":"yellow"},{"col":28,"row":-1.08,"text":"0","level":"yellow"},{"col":29,"row":-1.08,"text":"1","level":"yellow"},{"col":30,"row":-1.08,"text":"2","level":"yellow"},{"col":31,"row":-1.08,"text":"3","level":"yellow"},
{"col":32,"row":-1.08,"text":"0","level":"salmon"},{"col":33,"row":-1.08,"text":"1","level":"salmon"},{"col":34,"row":-1.08,"text":"2","level":"salmon"},{"col":35,"row":-1.08,"text":"3","level":"salmon"},{"col":36,"row":-1.08,"text":"4","level":"salmon"},{"col":37,"row":-1.08,"text":"5","level":"salmon"},{"col":38,"row":-1.08,"text":"6","level":"salmon"},{"col":39,"row":-1.08,"text":"7","level":"salmon"},{"col":40,"row":-1.08,"text":"8","level":"salmon"},{"col":41,"row":-1.08,"text":"9","level":"salmon"},{"col":42,"row":-1.08,"text":"0","level":"salmon"},{"col":43,"row":-1.08,"text":"1","level":"salmon"},{"col":44,"row":-1.08,"text":"2","level":"salmon"},{"col":45,"row":-1.08,"text":"3","level":"salmon"},{"col":46,"row":-1.08,"text":"4","level":"salmon"},{"col":47,"row":-1.08,"text":"5","level":"salmon"},{"col":48,"row":-1.08,"text":"6","level":"salmon"},{"col":49,"row":-1.08,"text":"7","level":"salmon"},{"col":50,"row":-1.08,"text":"8","level":"salmon"},{"col":51,"row":-1.08,"text":"9","level":"salmon"},{"col":52,"row":-1.08,"text":"0","level":"salmon"},{"col":53,"row":-1.08,"text":"1","level":"salmon"},{"col":54,"row":-1.08,"text":"2","level":"salmon"},{"col":55,"row":-1.08,"text":"3","level":"salmon"},
{"col":56,"row":-1.08,"text":"0","level":"magenta"},{"col":57,"row":-1.08,"text":"1","level":"magenta"},{"col":58,"row":-1.08,"text":"2","level":"magenta"},{"col":59,"row":-1.08,"text":"3","level":"magenta"},{"col":60,"row":-1.08,"text":"4","level":"magenta"},{"col":61,"row":-1.08,"text":"5","level":"magenta"},{"col":62,"row":-1.08,"text":"6","level":"magenta"},{"col":63,"row":-1.08,"text":"7","level":"magenta"},{"col":64,"row":-1.08,"text":"8","level":"magenta"},{"col":65,"row":-1.08,"text":"9","level":"magenta"},{"col":66,"row":-1.08,"text":"0","level":"magenta"},{"col":67,"row":-1.08,"text":"1","level":"magenta"},{"col":68,"row":-1.08,"text":"2","level":"magenta"},{"col":69,"row":-1.08,"text":"3","level":"magenta"},{"col":70,"row":-1.08,"text":"4","level":"magenta"},{"col":71,"row":-1.08,"text":"5","level":"magenta"},{"col":72,"row":-1.08,"text":"6","level":"magenta"},{"col":73,"row":-1.08,"text":"7","level":"magenta"},{"col":74,"row":-1.08,"text":"8","level":"magenta"},{"col":75,"row":-1.08,"text":"9","level":"magenta"},{"col":76,"row":-1.08,"text":"0","level":"magenta"},{"col":77,"row":-1.08,"text":"1","level":"magenta"},{"col":78,"row":-1.08,"text":"2","level":"magenta"},{"col":79,"row":-1.08,"text":"3","level":"magenta"},
{"col":80,"row":-1.08,"text":"0","level":"periwinkle"},{"col":81,"row":-1.08,"text":"1","level":"periwinkle"},
{"col":0,"row":15.125,"text":"4","level":"periwinkle"}
]}}
]}
